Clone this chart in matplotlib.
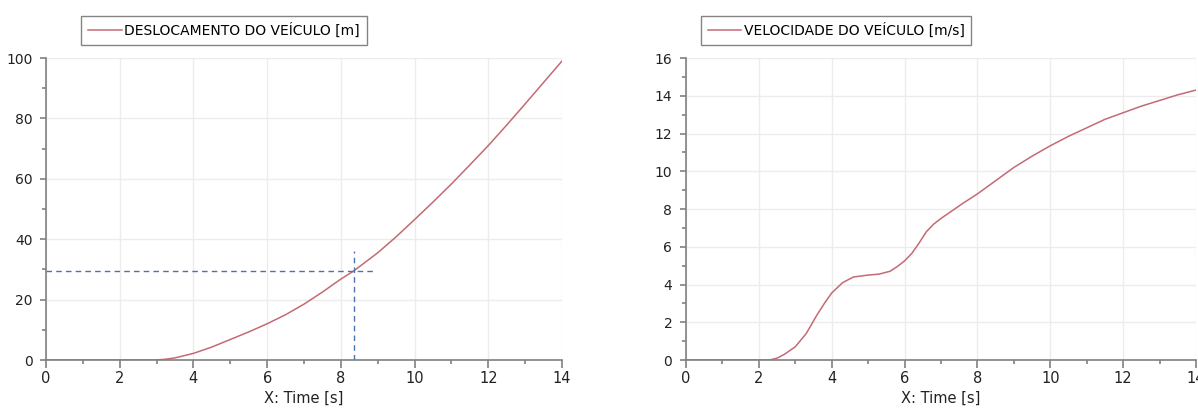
import matplotlib
matplotlib.use('Agg')
import matplotlib.pyplot as plt
from matplotlib.ticker import MultipleLocator

# Deslocamento do veiculo [m]
t_desl = [0, 1, 2, 2.9, 3.2, 3.5, 4, 4.5, 5, 5.5, 6, 6.5, 7, 7.5, 8, 8.35, 9, 9.5, 10, 10.5, 11, 11.5, 12, 12.5, 13, 13.5, 14]
desl = [0, 0, 0, 0, 0.2, 0.7, 2.2, 4.3, 6.8, 9.3, 12.0, 15.0, 18.5, 22.5, 26.8, 29.5, 35.5, 40.8, 46.5, 52.3, 58.3, 64.6, 71.0, 77.8, 84.8, 91.9, 99.0]

# Velocidade do veiculo [m/s]
t_vel = [0, 1, 2, 2.3, 2.5, 2.7, 3.0, 3.3, 3.6, 3.8, 4.0, 4.3, 4.6, 5.0, 5.3, 5.6, 5.8, 6.0, 6.2, 6.4, 6.6, 6.8, 7.0, 7.3, 7.6, 8.0, 8.5, 9.0, 9.5, 10, 10.5, 11, 11.5, 12, 12.5, 13, 13.5, 14]
vel = [0, 0, 0, 0, 0.1, 0.3, 0.7, 1.4, 2.4, 3.0, 3.55, 4.1, 4.4, 4.5, 4.55, 4.7, 4.95, 5.25, 5.65, 6.2, 6.8, 7.2, 7.5, 7.9, 8.3, 8.8, 9.5, 10.2, 10.8, 11.35, 11.85, 12.3, 12.75, 13.1, 13.45, 13.75, 14.05, 14.3]

# marcacao no grafico de deslocamento
marca_t = 8.35
marca_x = 29.5

cor_linha = '#c46a74'
cor_marca = '#4a72b0'
cor_eixo = '#808080'

plt.rcParams['font.family'] = ['DejaVu Sans']
plt.rcParams['font.size'] = 10

fig = plt.figure(figsize=(11.98, 4.08), dpi=100)
ax1 = fig.add_axes([0.0384, 0.1176, 0.4307, 0.7402])
ax2 = fig.add_axes([0.5726, 0.1176, 0.4257, 0.7402])


def estilo(ax, ymax, ymaj, ymin):
    ax.set_xlim(0, 14)
    ax.set_ylim(0, ymax)
    ax.xaxis.set_major_locator(MultipleLocator(2))
    ax.xaxis.set_minor_locator(MultipleLocator(1))
    ax.yaxis.set_major_locator(MultipleLocator(ymaj))
    ax.yaxis.set_minor_locator(MultipleLocator(ymin))
    for s in ['top', 'right']:
        ax.spines[s].set_visible(False)
    for s in ['left', 'bottom']:
        ax.spines[s].set_color(cor_eixo)
        ax.spines[s].set_linewidth(1.2)
    ax.tick_params(axis='x', which='major', direction='out', length=6, width=1.2, color=cor_eixo, pad=2,
                   labelsize=10.5)
    ax.tick_params(axis='x', which='minor', direction='out', length=3, width=1.2, color=cor_eixo)
    ax.tick_params(axis='y', which='major', direction='out', length=4.3, width=1.2, color=cor_eixo, pad=5.5,
                   labelsize=10)
    ax.tick_params(axis='y', which='minor', direction='out', length=3, width=1.2, color=cor_eixo)
    ax.grid(True, which='major', color='#ececec', linewidth=1)
    ax.set_axisbelow(True)
    ax.set_xlabel('X: Time [s]', labelpad=3, fontsize=10.5)
    for lab in ax.get_xticklabels() + ax.get_yticklabels():
        lab.set_color('#222222')
    ax.xaxis.label.set_color('#222222')


estilo(ax1, 100, 20, 10)
ax1.plot(t_desl, desl, color=cor_linha, linewidth=1.1, label='DESLOCAMENTO DO VEÍCULO [m]')
ax1.plot([0, 8.9], [marca_x, marca_x], color=cor_marca, linestyle='--', linewidth=1.0, dashes=(4, 3))
ax1.plot([marca_t, marca_t], [0, 36], color=cor_marca, linestyle='--', linewidth=1.0, dashes=(4, 3))
ax1.legend(loc='lower left', bbox_to_anchor=(0.055, 1.02), frameon=True, fancybox=False,
           edgecolor='#666666', handlelength=2.4, handletextpad=0.2, borderpad=0.5, fontsize=10)

estilo(ax2, 16, 2, 1)
ax2.plot(t_vel, vel, color=cor_linha, linewidth=1.1, label='VELOCIDADE DO VEÍCULO [m/s]')
ax2.legend(loc='lower left', bbox_to_anchor=(0.015, 1.02), frameon=True, fancybox=False,
           edgecolor='#666666', handlelength=2.4, handletextpad=0.2, borderpad=0.5, fontsize=10)

for leg in [ax1.get_legend(), ax2.get_legend()]:
    leg.get_frame().set_linewidth(1.0)

fig.savefig('out.png', dpi=100)
